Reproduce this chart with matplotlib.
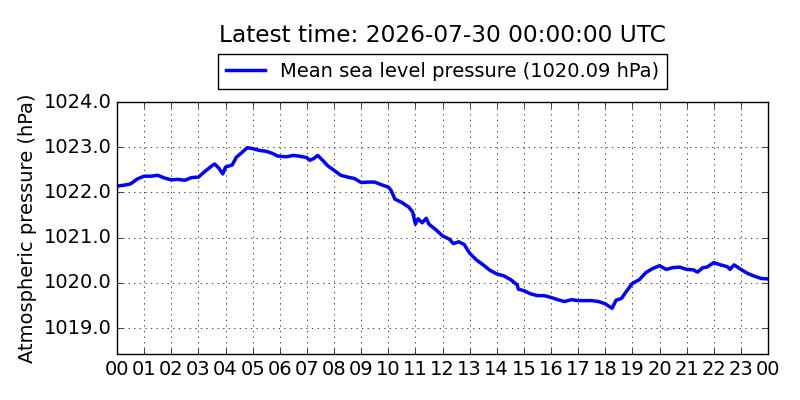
import pandas as pd
import matplotlib
matplotlib.use("Agg")
import matplotlib.pyplot as plt
import matplotlib.dates as mdates

# hours since 2026-07-29 00:00 UTC and mean sea level pressure (hPa)
hours = [0.0, 0.25, 0.5, 0.75, 1.0, 1.25, 1.5, 1.75, 2.0, 2.25, 2.5, 2.75,
         3.0, 3.25, 3.5, 3.6, 3.75, 3.9, 4.0, 4.25, 4.4, 4.6, 4.8, 5.0,
         5.25, 5.5, 5.75, 5.9, 6.0, 6.25, 6.5, 6.75, 7.0, 7.1, 7.25, 7.4,
         7.6, 7.75, 8.0, 8.25, 8.5, 8.75, 9.0, 9.25, 9.5, 9.75, 10.0, 10.1,
         10.25, 10.5, 10.75, 10.9, 11.0, 11.1, 11.25, 11.4, 11.5, 11.75, 12.0, 12.25,
         12.4, 12.6, 12.8, 13.0, 13.25, 13.5, 13.75, 14.0, 14.25, 14.5, 14.75, 14.8,
         15.0, 15.25, 15.5, 15.75, 16.0, 16.25, 16.5, 16.75, 17.0, 17.25, 17.5, 17.75,
         18.0, 18.25, 18.4, 18.6, 18.75, 19.0, 19.25, 19.5, 19.75, 20.0, 20.25, 20.5,
         20.75, 21.0, 21.25, 21.4, 21.6, 21.75, 22.0, 22.25, 22.5, 22.6, 22.75, 23.0,
         23.25, 23.5, 23.75, 24.0]
pressure = [1022.14, 1022.16, 1022.19, 1022.30, 1022.36, 1022.36, 1022.38, 1022.32, 1022.28, 1022.29, 1022.27, 1022.33,
            1022.34, 1022.47, 1022.59, 1022.63, 1022.54, 1022.41, 1022.56, 1022.61, 1022.78, 1022.88, 1022.99, 1022.97,
            1022.93, 1022.91, 1022.86, 1022.81, 1022.80, 1022.79, 1022.82, 1022.80, 1022.77, 1022.71, 1022.75, 1022.82,
            1022.70, 1022.60, 1022.49, 1022.38, 1022.34, 1022.31, 1022.22, 1022.23, 1022.23, 1022.17, 1022.12, 1022.05,
            1021.85, 1021.78, 1021.68, 1021.57, 1021.30, 1021.42, 1021.33, 1021.43, 1021.30, 1021.18, 1021.04, 1020.97,
            1020.87, 1020.91, 1020.85, 1020.66, 1020.51, 1020.40, 1020.28, 1020.20, 1020.16, 1020.08, 1019.96, 1019.86,
            1019.83, 1019.76, 1019.72, 1019.72, 1019.68, 1019.63, 1019.59, 1019.63, 1019.61, 1019.61, 1019.61, 1019.59,
            1019.54, 1019.44, 1019.62, 1019.66, 1019.79, 1019.99, 1020.07, 1020.23, 1020.32, 1020.38, 1020.30, 1020.34,
            1020.35, 1020.30, 1020.29, 1020.24, 1020.34, 1020.35, 1020.45, 1020.40, 1020.36, 1020.30, 1020.40, 1020.30,
            1020.21, 1020.15, 1020.10, 1020.09]

start = pd.Timestamp("2026-07-29 00:00:00")
end = pd.Timestamp("2026-07-30 00:00:00")
times = start + pd.to_timedelta(hours, unit="h")

plt.style.use("classic")
plt.rcParams["font.family"] = "DejaVu Sans"

fig = plt.figure(figsize=(8, 4), dpi=100)
ax = fig.add_axes([117 / 800, 46 / 400, 651 / 800, 252 / 400])

ax.plot(times, pressure, color="b", linewidth=2.5,
        label="Mean sea level pressure (%.2f hPa)" % pressure[-1])

ax.set_xlim(start, end)
ax.set_ylim(1018.43, 1024.0)
ax.xaxis.set_major_locator(mdates.HourLocator(interval=1))
ax.xaxis.set_major_formatter(mdates.DateFormatter("%H"))
ax.yaxis.set_major_formatter(matplotlib.ticker.FormatStrFormatter("%.1f"))
ax.tick_params(labelsize=14)
ax.set_ylabel("Atmospheric pressure (hPa)", fontsize=14)
ax.grid(True)

ax.legend(loc="lower center", bbox_to_anchor=(0.5, 1.0 + 13 / 252),
          borderaxespad=0, fontsize=14, numpoints=1)
fig.text(442.5 / 800, 1 - 35 / 400, "Latest time: %s UTC" % end.strftime("%Y-%m-%d %H:%M:%S"),
         ha="center", va="center", fontsize=16.75)

fig.savefig("out.png", dpi=100)
